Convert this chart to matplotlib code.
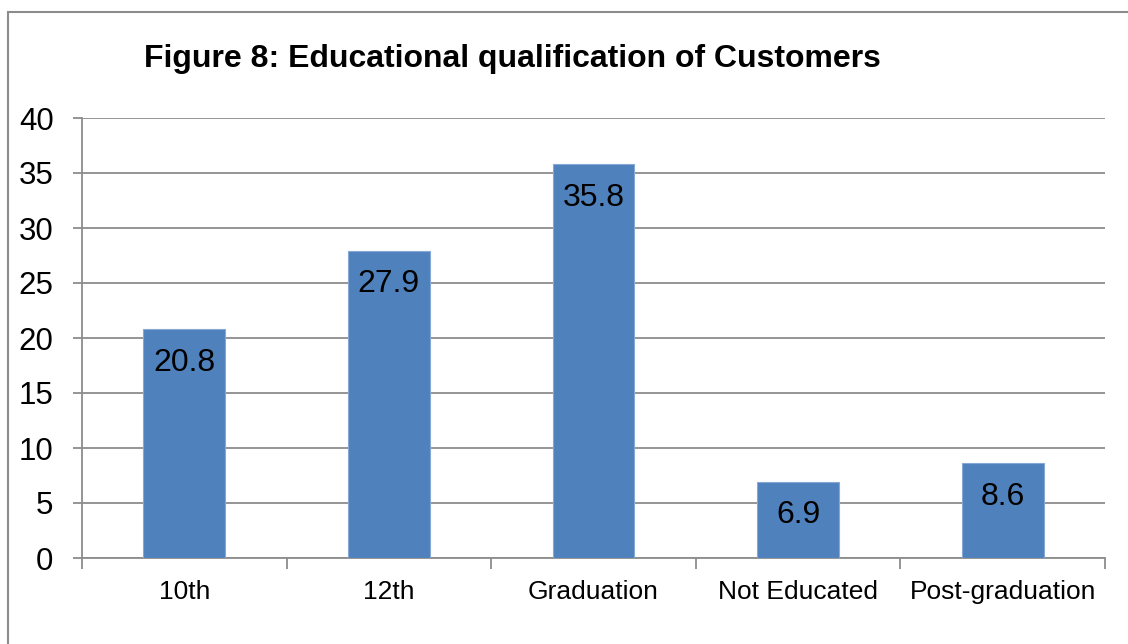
import matplotlib
matplotlib.use("Agg")
import matplotlib.pyplot as plt
from matplotlib.patches import Rectangle
import numpy as np

plt.rcParams['font.family'] = ['Liberation Sans', 'DejaVu Sans']

categories = ['10th', '12th', 'Graduation', 'Not Educated', 'Post-graduation']
percent = [20.8, 27.9, 35.8, 6.9, 8.6]
y_ticks = [0, 5, 10, 15, 20, 25, 30, 35, 40]

bar_color = '#4F81BD'
grid_color = '#8C8C8C'

fig = plt.figure(figsize=(11.28, 6.44), dpi=100)
ax = fig.add_axes([82 / 1128, 86 / 644, (1105 - 82) / 1128, 440 / 644])

x = np.arange(len(categories))
bars = ax.bar(x, percent, width=0.4, color=bar_color, edgecolor='#86A8D5',
              linewidth=0.8, zorder=3)

# value labels sit inside the bar, just below its top
for rect, val in zip(bars, percent):
    ax.annotate(f'{val}', (rect.get_x() + rect.get_width() / 2, val),
                xytext=(0, -24), textcoords='offset points',
                ha='center', va='center', fontsize=23, color='black', zorder=4)

ax.set_xlim(-0.5, len(categories) - 0.5)
ax.set_ylim(0, 40)
ax.set_yticks(y_ticks)
ax.set_yticklabels([str(t) for t in y_ticks])
ax.yaxis.grid(True, color=grid_color, linewidth=1.3, zorder=0)

# category names centred, tick marks on the boundaries between them
ax.set_xticks(x)
ax.set_xticklabels(categories)
ax.set_xticks(np.arange(len(categories) + 1) - 0.5, minor=True)
ax.tick_params(axis='x', which='major', length=0, pad=16, labelsize=19)
ax.tick_params(axis='x', which='minor', length=8, width=1.3, color=grid_color)
ax.tick_params(axis='y', length=6.5, width=1.3, color=grid_color, pad=14,
               labelsize=22.5)

for side in ['top', 'right']:
    ax.spines[side].set_visible(False)
for side in ['left', 'bottom']:
    ax.spines[side].set_color(grid_color)
    ax.spines[side].set_linewidth(1.3)

fig.text(512 / 1128, 1 - 59 / 644, 'Figure 8: Educational qualification of Customers',
         ha='center', va='center', fontsize=23, fontweight='bold')

# chart frame
fig.patches.append(Rectangle((8 / 1128, -0.1), 1.2, 1 - 12 / 644 + 0.1,
                             transform=fig.transFigure, fill=False,
                             edgecolor=grid_color, linewidth=1.5))

fig.savefig('out.png', dpi=100)
